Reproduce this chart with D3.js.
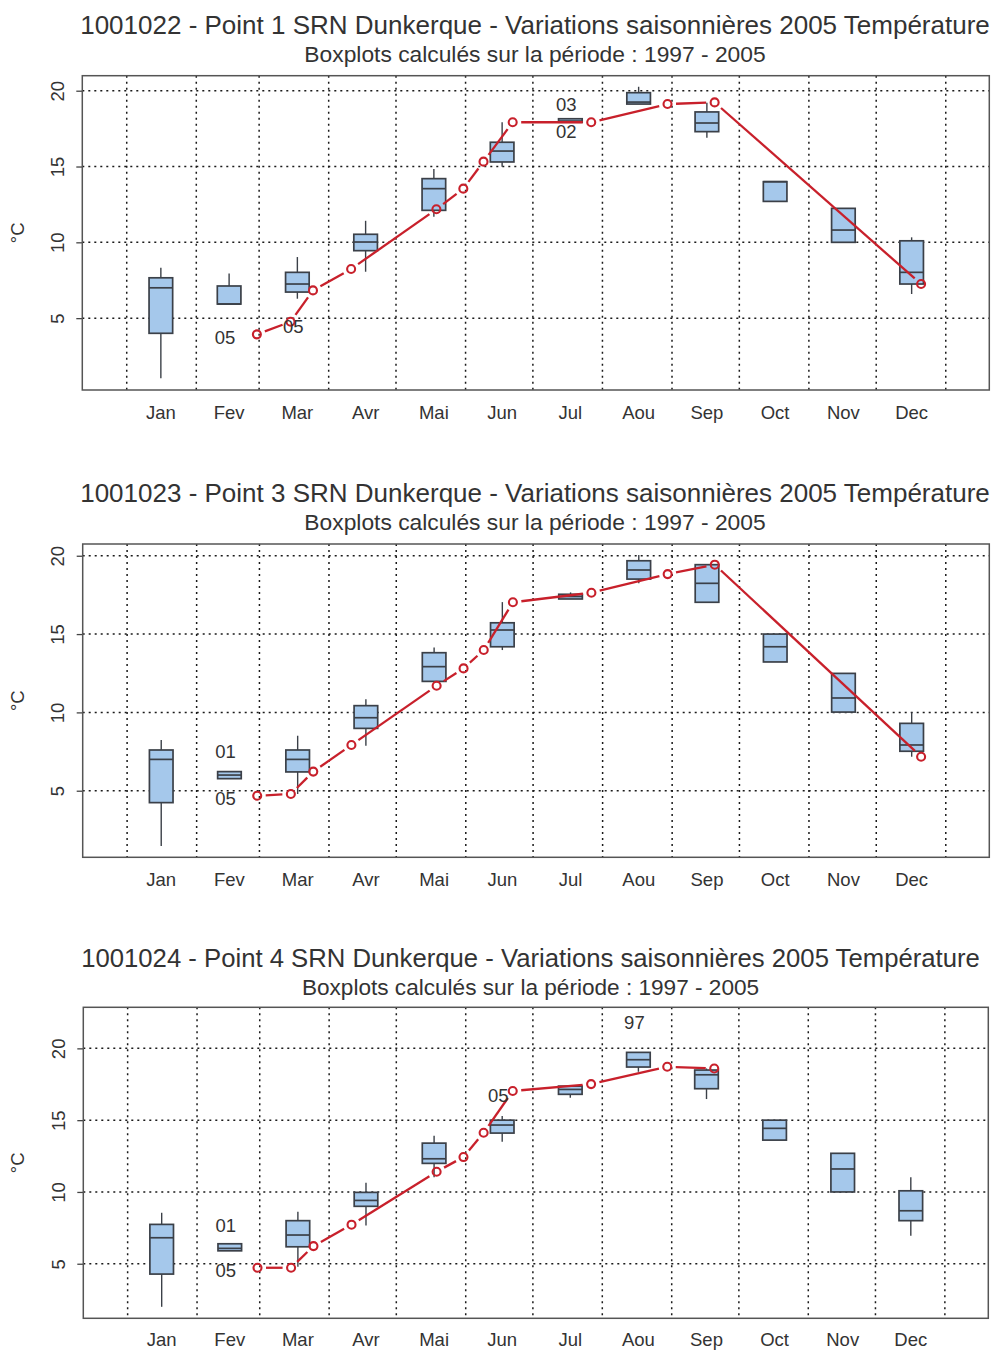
<!DOCTYPE html>
<html>
<head>
<meta charset="utf-8">
<script src="https://cdn.jsdelivr.net/npm/d3@7"></script>
<style>
  html, body { margin: 0; padding: 0; background: #fff; }
  svg { display: block; }
  text { font-family: "Liberation Sans", Arial, Helvetica, sans-serif; fill: #333; }
</style>
</head>
<body>
<svg id="chart" width="992" height="1350"></svg>
<script>
// ---- data -------------------------------------------------------------
const months = ["Jan", "Fev", "Mar", "Avr", "Mai", "Jun", "Jul", "Aou", "Sep", "Oct", "Nov", "Dec"];
const yTicks = [5, 10, 15, 20];
const unitLabel = "°C";
const subtitle = "Boxplots calculés sur la période : 1997 - 2005";
const titles = [
  "1001022 - Point 1 SRN Dunkerque - Variations saisonnières 2005 Température",
  "1001023 - Point 3 SRN Dunkerque - Variations saisonnières 2005 Température",
  "1001024 - Point 4 SRN Dunkerque - Variations saisonnières 2005 Température"
];

// 2005 sampling dates
const sampleDates = ["2005-02-28", "2005-03-15", "2005-03-25", "2005-04-11", "2005-05-19", "2005-05-31",
                     "2005-06-09", "2005-06-22", "2005-07-27", "2005-08-30", "2005-09-20", "2005-12-21"];

// monthly box statistics 1997-2005 : [min, q1, median, q3, max]
const p1Boxes = [
  [1.03, 4.00, 7.00, 7.66, 8.33], [5.93, 5.93, 5.93, 7.12, 7.95], [6.28, 6.72, 7.25, 8.02, 9.03],
  [8.06, 9.45, 10.02, 10.53, 11.42], [11.69, 12.11, 13.54, 14.20, 14.84], [14.99, 15.30, 16.02, 16.60, 17.92],
  [17.92, 17.92, 18.00, 18.15, 18.15], [19.12, 19.12, 19.25, 19.87, 20.26], [16.90, 17.30, 17.87, 18.60, 19.21],
  [12.70, 12.70, 14.00, 14.00, 14.00], [10.00, 10.00, 10.81, 12.24, 12.24], [6.59, 7.25, 8.02, 10.10, 10.33]
];
const p2Boxes = [
  [1.47, 4.24, 7.00, 7.60, 8.24], [5.77, 5.77, 6.00, 6.22, 6.22], [4.79, 6.20, 7.00, 7.60, 8.51],
  [7.87, 8.98, 9.66, 10.43, 10.84], [11.98, 11.98, 12.92, 13.81, 14.15], [13.98, 14.19, 15.26, 15.72, 17.04],
  [17.24, 17.24, 17.40, 17.54, 17.66], [18.24, 18.51, 19.09, 19.68, 20.04], [17.03, 17.03, 18.24, 19.43, 19.43],
  [13.22, 13.22, 14.19, 15.00, 15.00], [10.02, 10.02, 10.92, 12.49, 12.49], [7.17, 7.52, 7.92, 9.30, 10.00]
];
const p3Boxes = [
  [2.00, 4.28, 6.81, 7.74, 8.55], [5.90, 5.90, 6.07, 6.39, 6.39], [4.79, 6.18, 7.00, 8.00, 8.62],
  [7.67, 9.00, 9.41, 9.97, 10.64], [11.02, 11.99, 12.31, 13.40, 13.91], [13.50, 14.10, 14.66, 15.00, 15.29],
  [16.56, 16.80, 17.14, 17.37, 17.44], [18.37, 18.70, 19.21, 19.72, 19.72], [16.47, 17.19, 18.16, 18.49, 18.60],
  [13.61, 13.61, 14.43, 15.00, 15.00], [10.00, 10.00, 11.60, 12.69, 12.69], [6.95, 8.00, 8.69, 10.08, 11.02]
];

// 2005 measurements (°C) at the sampling dates
const p1Temps = [3.93, 4.76, 6.83, 8.24, 12.18, 13.54, 15.32, 17.92, 17.92, 19.12, 19.23, 7.25];
const p2Temps = [4.68, 4.79, 6.22, 7.92, 11.70, 12.81, 13.98, 17.03, 17.64, 18.83, 19.43, 7.17];
const p3Temps = [4.72, 4.72, 6.23, 7.72, 11.41, 12.43, 14.12, 17.03, 17.51, 18.72, 18.60, null];

// year annotations (month index, temperature, text)
const p1Notes = [{ m: 1, v: 3.70, t: "05" }, { m: 2, v: 4.48, t: "05" }, { m: 6, v: 19.08, t: "03" }, { m: 6, v: 17.30, t: "02" }];
const p2Notes = [{ m: 1, v: 7.49, t: "01" }, { m: 1, v: 4.52, t: "05" }];
const p3Notes = [{ m: 1, v: 7.63, t: "01" }, { m: 1, v: 4.51, t: "05" }, { m: 5, v: 16.75, t: "05" }, { m: 7, v: 21.78, t: "97" }];

// ---- layout -------------------------------------------------------------
const DAY = 86400000;
const yearStart = Date.UTC(2005, 0, 1);
const xDomain = [new Date(yearStart - 19.8 * DAY), new Date(yearStart + 384.4 * DAY)];

const panels = [
  { title: titles[0], boxes: p1Boxes, temps: p1Temps, notes: p1Notes, yDomain: [0.26, 20.99],
    left: 82.3, right: 989.3, top: 75.7, bottom: 390, titleX: 535, titleY: 33.5, subY: 62, xLabY: 419,
    titleSize: 26, subSize: 22.8 },
  { title: titles[1], boxes: p2Boxes, temps: p2Temps, notes: p2Notes, yDomain: [0.75, 20.75],
    left: 82.7, right: 989.3, top: 544, bottom: 857.3, titleX: 535, titleY: 501.5, subY: 530, xLabY: 886,
    titleSize: 26, subSize: 22.8 },
  { title: titles[2], boxes: p3Boxes, temps: p3Temps, notes: p3Notes, yDomain: [1.2, 22.86],
    left: 83.3, right: 988.3, top: 1007.3, bottom: 1318.3, titleX: 530.5, titleY: 966.5, subY: 995, xLabY: 1346,
    titleSize: 25.7, subSize: 22.6 }
];

const boxFill = "#a5c8eb";
const boxStroke = "#3b4048";
const red = "#c8202b";
const boxHalf = 11.8;
const gap = 8.5;   // space left between a segment end and the point circle

const svg = d3.select("#chart");

panels.forEach(p => {
  const g = svg.append("g");
  const x = d3.scaleUtc().domain(xDomain).range([p.left, p.right]);
  const y = d3.scaleLinear().domain(p.yDomain).range([p.bottom, p.top]);
  const boxX = i => x(new Date(yearStart + (i + 0.5) * 365 / 12 * DAY));

  // titles
  g.append("text").attr("x", p.titleX).attr("y", p.titleY).attr("text-anchor", "middle")
    .style("font-size", p.titleSize + "px").text(p.title);
  g.append("text").attr("x", p.titleX).attr("y", p.subY).attr("text-anchor", "middle")
    .style("font-size", p.subSize + "px").text(subtitle);

  // grid
  const monthStarts = d3.utcMonth.range(new Date(yearStart), new Date(Date.UTC(2006, 0, 2)));
  g.append("g").selectAll("line").data(monthStarts).join("line")
    .attr("x1", d => x(d)).attr("x2", d => x(d)).attr("y1", p.top).attr("y2", p.bottom)
    .attr("stroke", "#1a1a1a").attr("stroke-width", 1.5).attr("stroke-dasharray", "2,4");
  g.append("g").selectAll("line").data(yTicks).join("line")
    .attr("x1", p.left).attr("x2", p.right).attr("y1", d => y(d)).attr("y2", d => y(d))
    .attr("stroke", "#1a1a1a").attr("stroke-width", 1.5).attr("stroke-dasharray", "2,4");

  // y axis
  const yAxis = d3.axisLeft(y).tickValues(yTicks).tickSize(6).tickPadding(0).tickFormat(d3.format("d"));
  const ya = g.append("g").attr("transform", `translate(${p.left},0)`).call(yAxis);
  ya.select(".domain").remove();
  ya.selectAll(".tick line").attr("stroke", "#444").attr("stroke-width", 1.3);
  ya.selectAll(".tick text")
    .attr("x", null).attr("dy", null)
    .attr("transform", `translate(${-25.3},0) rotate(-90)`)
    .attr("text-anchor", "middle").attr("dominant-baseline", "central")
    .style("font-size", "18.5px").attr("fill", "#333");
  ya.attr("font-family", null).attr("font-size", null);

  g.append("text")
    .attr("transform", `translate(17.5,${(p.top + p.bottom) / 2}) rotate(-90)`)
    .attr("text-anchor", "middle").attr("dominant-baseline", "central")
    .style("font-size", "18.5px").text(unitLabel);

  // month labels
  g.append("g").selectAll("text").data(months).join("text")
    .attr("x", (d, i) => boxX(i)).attr("y", p.xLabY).attr("text-anchor", "middle")
    .style("font-size", "18.5px").text(d => d);

  // boxplots
  const bx = g.append("g").selectAll("g").data(p.boxes).join("g");
  bx.append("line").attr("x1", (d, i) => boxX(i)).attr("x2", (d, i) => boxX(i))
    .attr("y1", d => y(d[3])).attr("y2", d => y(d[4]))
    .attr("stroke", boxStroke).attr("stroke-width", 1.4);
  bx.append("line").attr("x1", (d, i) => boxX(i)).attr("x2", (d, i) => boxX(i))
    .attr("y1", d => y(d[1])).attr("y2", d => y(d[0]))
    .attr("stroke", boxStroke).attr("stroke-width", 1.4);
  bx.append("rect").attr("x", (d, i) => boxX(i) - boxHalf).attr("width", boxHalf * 2)
    .attr("y", d => y(d[3])).attr("height", d => Math.max(y(d[1]) - y(d[3]), 0.5))
    .attr("fill", boxFill).attr("stroke", boxStroke).attr("stroke-width", 1.7);
  bx.append("line").attr("x1", (d, i) => boxX(i) - boxHalf).attr("x2", (d, i) => boxX(i) + boxHalf)
    .attr("y1", d => y(d[2])).attr("y2", d => y(d[2]))
    .attr("stroke", boxStroke).attr("stroke-width", 1.7);

  // 2005 line: points joined by segments that stop short of each circle
  const pts = sampleDates.map((d, i) => ({ d: new Date(d + "T00:00:00Z"), v: p.temps[i] }))
    .filter(d => d.v !== null)
    .map(d => ({ px: x(d.d), py: y(d.v) }));
  const segs = d3.pairs(pts).map(([a, b]) => {
    const dx = b.px - a.px, dy = b.py - a.py, len = Math.hypot(dx, dy);
    if (len <= 2 * gap) return null;
    const ux = dx / len, uy = dy / len;
    return [a.px + ux * gap, a.py + uy * gap, b.px - ux * gap, b.py - uy * gap];
  }).filter(Boolean);
  g.append("g").selectAll("line").data(segs).join("line")
    .attr("x1", d => d[0]).attr("y1", d => d[1]).attr("x2", d => d[2]).attr("y2", d => d[3])
    .attr("stroke", red).attr("stroke-width", 2.3);
  g.append("g").selectAll("circle").data(pts).join("circle")
    .attr("cx", d => d.px).attr("cy", d => d.py).attr("r", 4)
    .attr("fill", "none").attr("stroke", red).attr("stroke-width", 2.1);

  // year annotations
  g.append("g").selectAll("text").data(p.notes).join("text")
    .attr("x", d => boxX(d.m) - 4).attr("y", d => y(d.v))
    .attr("text-anchor", "middle").attr("dominant-baseline", "central")
    .style("font-size", "18.5px").text(d => d.t);

  // frame
  g.append("rect").attr("x", p.left).attr("y", p.top)
    .attr("width", p.right - p.left).attr("height", p.bottom - p.top)
    .attr("fill", "none").attr("stroke", "#555").attr("stroke-width", 1.5);
});
</script>
</body>
</html>
